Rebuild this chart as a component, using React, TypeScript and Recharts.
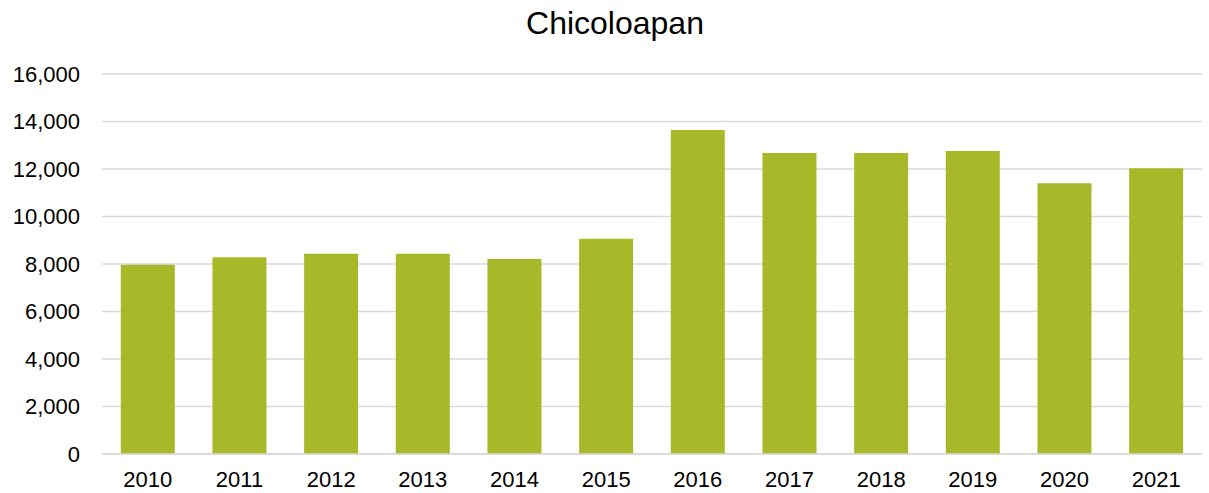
import React from "react";
import { BarChart, Bar, XAxis, YAxis, CartesianGrid } from "recharts";

if (typeof document !== "undefined") {
  document.body.style.margin = "0";
}

const years = ["2010", "2011", "2012", "2013", "2014", "2015", "2016", "2017", "2018", "2019", "2020", "2021"];
const values = [7970, 8280, 8430, 8430, 8210, 9060, 13640, 12670, 12670, 12760, 11400, 12030];
const yTicks = [0, 2000, 4000, 6000, 8000, 10000, 12000, 14000, 16000];
const title = "Chicoloapan";

const data = years.map((y, i) => ({ year: y, value: values[i] }));

const font = "'Liberation Sans', Arial, sans-serif";

export default function App() {
  return (
    <div style={{ position: "relative", width: 1209, height: 493, background: "#fff", fontFamily: font }}>
      <div
        style={{
          position: "absolute",
          left: 0,
          width: 1230,
          top: 5,
          textAlign: "center",
          fontSize: 32,
          lineHeight: "36px",
          color: "#000",
          fontFamily: font,
        }}
      >
        {title}
      </div>
      <BarChart
        width={1209}
        height={493}
        data={data}
        margin={{ top: 74, right: 7, left: 0, bottom: 0 }}
        barCategoryGap="20.5%"
      >
        <CartesianGrid vertical={false} stroke="#d9d9d9" strokeWidth={1.5} />
        <XAxis
          dataKey="year"
          height={39}
          tickLine={false}
          axisLine={{ stroke: "#d9d9d9", strokeWidth: 1.5 }}
          tickMargin={11}
          tick={{ fill: "#000", fontSize: 22, fontFamily: font }}
        />
        <YAxis
          width={102}
          domain={[0, 16000]}
          ticks={yTicks}
          axisLine={false}
          tickLine={false}
          tickMargin={16}
          tickFormatter={(v: number) => v.toLocaleString("en-US")}
          tick={{ fill: "#000", fontSize: 22, fontFamily: font }}
        />
        <Bar dataKey="value" fill="#a7b829" isAnimationActive={false} />
      </BarChart>
    </div>
  );
}
